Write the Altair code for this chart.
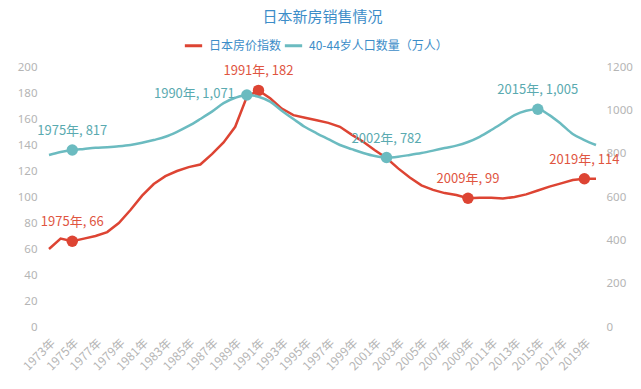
import altair as alt
import pandas as pd

years = list(range(1973, 2021))
price_index = [60, 68, 66, 68, 70, 73, 80, 90, 101, 110, 116, 120, 123, 125, 133, 142, 154, 177,
               182, 176, 168, 163, 161, 159, 157, 154, 148, 142.5, 136, 130, 122, 115, 109, 105.5,
               103, 101.5, 99, 99.5, 99.5, 98.8, 100, 102, 105, 108, 110.5, 113, 114, 114]
population = [794, 808, 817, 822, 827, 830, 834, 840, 850, 863, 878, 901, 928, 960, 994, 1033,
              1058, 1071, 1063, 1040, 998, 960, 923, 894, 867, 840, 821, 803, 789, 782, 786, 794,
              803, 814, 826, 837, 854, 878, 909, 943, 978, 998, 1005, 978, 937, 891, 863, 840]
series_names = ["日本房价指数", "40-44岁人口数量（万人）"]
series_colors = ["#dd4433", "#6bbbc0"]
price_mark_years = [1975, 1991, 2009, 2019]
pop_mark_years = [1975, 1990, 2002, 2015]
x_tick_years = list(range(1973, 2020, 2))

df_price = pd.DataFrame({"year": years, "value": price_index, "series": series_names[0]})
df_pop = pd.DataFrame({"year": years, "value": population, "series": series_names[1]})


def fmt(v):
    return f"{int(round(v)):,}"


pm = df_price[df_price.year.isin(price_mark_years)].copy()
pm["label"] = [f"{y}年, {fmt(v)}" for y, v in zip(pm.year, pm.value)]
qm = df_pop[df_pop.year.isin(pop_mark_years)].copy()
qm["label"] = [f"{y}年, {fmt(v)}" for y, v in zip(qm.year, qm.value)]
qm_left = qm[qm.year == 1990]
qm_top = qm[qm.year != 1990]

color_scale = alt.Scale(domain=series_names, range=series_colors)

x_enc = alt.X("year:Q", scale=alt.Scale(domain=[1973, 2020], nice=False),
              axis=alt.Axis(values=x_tick_years, labelExpr="datum.value + '年'",
                            labelAngle=-45, labelAlign="right", labelBaseline="top",
                            labelPadding=10, labelColor="#b5b5b5", labelFontSize=12,
                            labelFont="Noto Sans CJK SC", domain=False, ticks=False,
                            grid=False, title=None, labelOverlap=False, labelFlush=False))

y_left = alt.Y("value:Q", scale=alt.Scale(domain=[0, 200], nice=False),
               axis=alt.Axis(values=list(range(0, 201, 20)), orient="left", domain=False,
                             ticks=False, grid=False, title=None, labelColor="#b5b5b5",
                             labelFontSize=11.5, labelPadding=12, labelFont="Noto Sans",
                             format="d"))
y_right = alt.Y("value:Q", scale=alt.Scale(domain=[0, 1200], nice=False),
                axis=alt.Axis(values=list(range(0, 1201, 200)), orient="right", domain=False,
                              ticks=False, grid=False, title=None, labelColor="#b5b5b5",
                              labelFontSize=11.5, labelPadding=10, labelFont="Noto Sans",
                              format="d"))

color_enc = alt.Color("series:N", scale=color_scale,
                      legend=alt.Legend(orient="none", legendX=134, legendY=-32,
                                        direction="horizontal", title=None,
                                        symbolType="stroke", symbolSize=300,
                                        symbolStrokeWidth=3, labelColor="#3c8dc8",
                                        labelFontSize=12, labelFont="Noto Sans CJK SC",
                                        columnPadding=-4, labelOffset=5))

price_line = alt.Chart(df_price).mark_line(strokeWidth=2.5).encode(x=x_enc, y=y_left, color=color_enc)
price_pts = alt.Chart(pm).mark_circle(size=130, opacity=1).encode(
    x=x_enc, y=y_left, color=alt.Color("series:N", scale=color_scale, legend=None))
price_txt = alt.Chart(pm).mark_text(dy=-19, fontSize=13, font="Noto Sans CJK SC",
                                    color="#e0553f").encode(x=x_enc, y=y_left, text="label:N")

pop_line = alt.Chart(df_pop).mark_line(strokeWidth=2.5, interpolate="monotone").encode(
    x=x_enc, y=y_right, color=color_enc)
pop_pts = alt.Chart(qm).mark_circle(size=130, opacity=1).encode(
    x=x_enc, y=y_right, color=alt.Color("series:N", scale=color_scale, legend=None))
pop_txt = alt.Chart(qm_top).mark_text(dy=-19, fontSize=13, font="Noto Sans CJK SC",
                                      color="#5aaab0").encode(x=x_enc, y=y_right, text="label:N")
pop_txt_left = alt.Chart(qm_left).mark_text(dx=-12, dy=-1, align="right", fontSize=13,
                                            font="Noto Sans CJK SC", color="#5aaab0").encode(
    x=x_enc, y=y_right, text="label:N")

left = alt.layer(price_line, price_pts, price_txt)
right = alt.layer(pop_line, pop_pts, pop_txt, pop_txt_left)

chart = alt.layer(left, right).resolve_scale(y="independent").properties(
    width=547, height=260,
    title=alt.TitleParams("日本新房销售情况", anchor="middle", color="#3c8dc8", fontSize=15,
                          font="Noto Sans CJK SC", fontWeight="normal", offset=10),
    autosize=alt.AutoSizeParams(type="none"),
    padding={"left": 41, "top": 59, "right": 37, "bottom": 54},
).configure_view(stroke=None)

chart.save("out.html", embed_options={"renderer": "svg", "actions": False})
